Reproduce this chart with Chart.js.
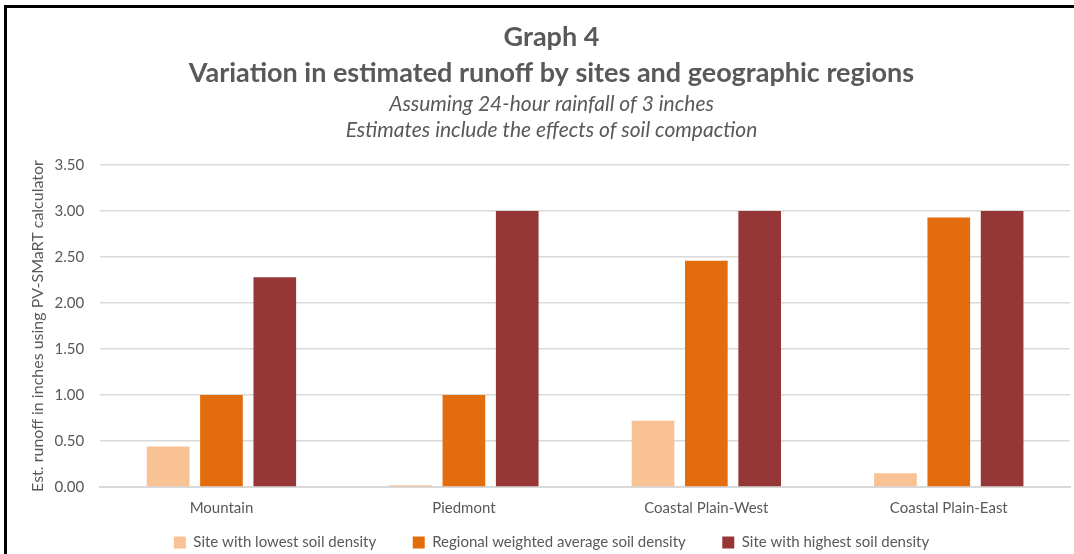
<!DOCTYPE html>
<html>
<head>
<meta charset="utf-8">
<script src="https://cdn.jsdelivr.net/npm/chart.js@4"></script>
<style>
  html, body { margin: 0; padding: 0; background: #fff; overflow: hidden; }
  #frame {
    position: absolute; left: 4px; top: 5px; width: 1090px; height: 570px;
    border-left: 3px solid #000; border-top: 3px solid #000;
  }
  #wrap { position: absolute; left: 0; top: 0; width: 1074px; height: 554px; }
</style>
</head>
<body>
<div id="wrap"><canvas id="myChart" width="1074" height="554"></canvas></div>
<div id="frame"></div>
<script>
const regions = ["Mountain", "Piedmont", "Coastal Plain-West", "Coastal Plain-East"];
const lowest = [0.44, 0.02, 0.72, 0.15];
const weighted = [1.0, 1.0, 2.46, 2.93];
const highest = [2.28, 3.0, 3.0, 3.0];
const seriesNames = [
  "Site with lowest soil density",
  "Regional weighted average soil density",
  "Site with highest soil density",
];

const font = "Lato, 'Open Sans', sans-serif";
const grey = "#595959";

const data = {
  labels: regions,
  datasets: [
    { label: seriesNames[0], data: lowest, backgroundColor: "#F9C294" },
    { label: seriesNames[1], data: weighted, backgroundColor: "#E36C0C" },
    { label: seriesNames[2], data: highest, backgroundColor: "#953737" },
  ],
};

const config = {
  type: "bar",
  data: data,
  options: {
    responsive: false,
    animation: false,
    datasets: {
      bar: { categoryPercentage: 0.66, barPercentage: 0.8 },
    },
    layout: {
      padding: { left: 33, right: 4, top: 19, bottom: -6 },
    },
    plugins: {
      title: {
        display: true,
        text: ["Graph 4", "Variation in estimated runoff by sites and geographic regions"],
        color: grey,
        font: { family: font, size: 27, weight: "bold", lineHeight: 1.333 },
        padding: { top: 0, bottom: 0 },
      },
      subtitle: {
        display: true,
        text: ["Assuming 24-hour rainfall of 3 inches", "Estimates include the effects of soil compaction"],
        color: grey,
        font: { family: font, size: 21, style: "italic", lineHeight: 1.24 },
        padding: { top: 0, bottom: 22 },
      },
      legend: {
        position: "bottom",
        labels: {
          color: grey,
          font: { family: font, size: 15 },
          boxWidth: 12,
          boxHeight: 12,
          padding: 14,
          // wider gap after the first two entries, as in the original
          generateLabels: (chart) => {
            const items = Chart.defaults.plugins.legend.labels.generateLabels(chart);
            items.forEach((it, i) => {
              if (i < items.length - 1) it.text = it.text + "\u2003\u2003";
            });
            return items;
          },
        },
      },
      tooltip: { enabled: false },
    },
    scales: {
      x: {
        grid: { display: false },
        border: { color: "#d9d9d9", width: 2 },
        ticks: { color: grey, font: { family: font, size: 15 }, padding: 4 },
      },
      y: {
        min: 0,
        max: 3.5,
        ticks: {
          stepSize: 0.5,
          color: grey,
          font: { family: font, size: 15 },
          padding: 16,
          callback: (v) => v.toFixed(2),
        },
        grid: { color: "#d9d9d9", lineWidth: 1.5, drawTicks: false },
        border: { display: false },
        title: {
          display: true,
          text: "Est. runoff in inches using PV-SMaRT calculator",
          color: grey,
          font: { family: font, size: 16, lineHeight: 0.1 },
          padding: { top: 4, bottom: 0 },
        },
      },
    },
  },
};

const myChart = new Chart(document.getElementById("myChart"), config);
</script>
</body>
</html>
